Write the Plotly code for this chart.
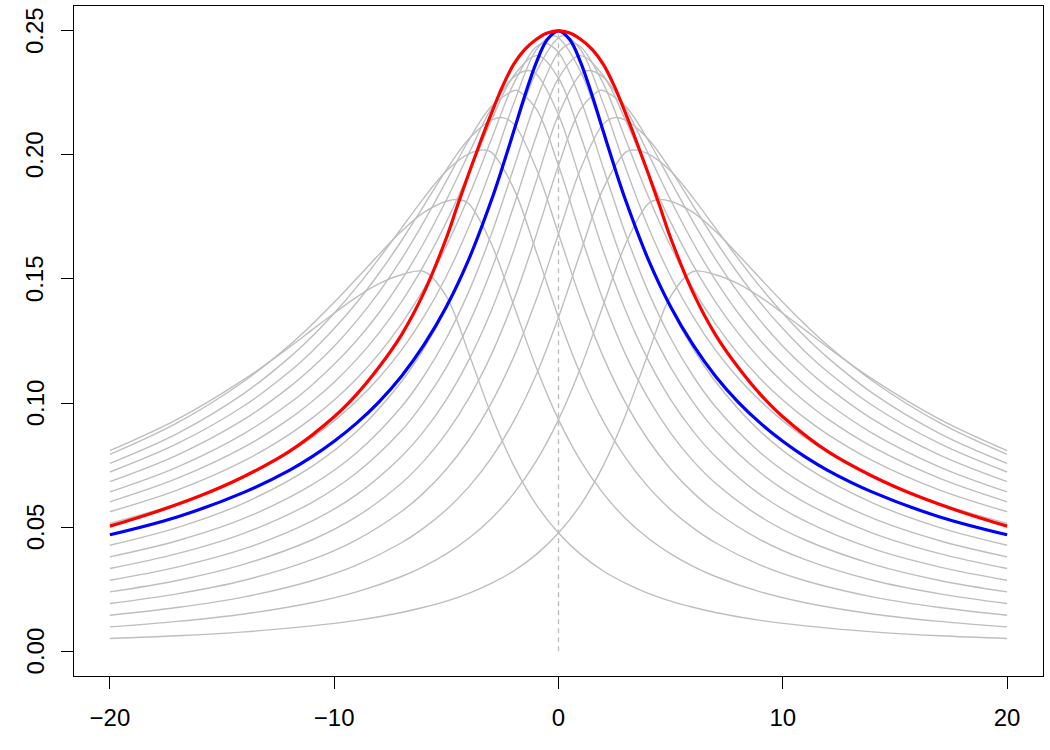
import plotly.graph_objects as go

LEFT = [-20, -17, -14, -11, -9, -7, -6, -5, -4, -3, -2, -1, 0]
RIGHT = [5, 6, 7, 8, 9, 10, 11, 12, 14, 17, 20]

# blue curve (symmetric, values for x >= 0)
blue_x = [0, 0.5, 1, 1.5, 2, 2.5, 3, 4, 5, 6, 7, 8, 9, 10, 11, 12, 14, 17, 20]
blue_y = [0.25, 0.2465, 0.2370, 0.2239, 0.2094, 0.1950, 0.1815, 0.1579, 0.1388, 0.1234, 0.1108,
          0.1005, 0.0919, 0.0846, 0.0783, 0.0729, 0.0641, 0.0541, 0.0469]

# red curve (symmetric, values for x >= 0)
red_x = [0, 0.5, 1, 1.5, 2, 2.5, 3, 3.5, 4, 4.5, 5, 6, 7, 8, 9, 10, 12, 14, 16, 18, 20]
red_y = [0.25, 0.2491, 0.2465, 0.2425, 0.2365, 0.2275, 0.2165, 0.2048, 0.1925, 0.1797, 0.1665,
         0.1445, 0.1275, 0.1145, 0.1035, 0.0945, 0.0805, 0.0705, 0.0625, 0.0560, 0.0504]

# gray curves peaking right of 0 (each also drawn mirrored)
g9_x = LEFT + [1, 2, 3, 4, 5, 6, 7, 8, 9, 10, 11, 12, 14, 17, 20]
g9_y = [0.0051, 0.0062, 0.0078, 0.0102, 0.0124, 0.0156, 0.0177, 0.0202, 0.0233, 0.0273, 0.0323, 0.0389, 0.0476,
        0.0592, 0.0749, 0.0954, 0.1200, 0.1430, 0.1530, 0.1517, 0.1481, 0.1427, 0.1362, 0.1294, 0.1225, 0.1096,
        0.0934, 0.0808]
g8_x = LEFT + [1, 2, 3, 4, 4.42] + RIGHT
g8_y = [0.0098, 0.0120, 0.0150, 0.0195, 0.0239, 0.0301, 0.0342, 0.0392, 0.0455, 0.0534, 0.0635, 0.0765, 0.0933,
        0.1145, 0.1395, 0.1643, 0.1803, 0.182, 0.1813, 0.1768, 0.1692, 0.1599, 0.1502, 0.1406, 0.1316, 0.1233,
        0.1089, 0.0920, 0.0793]
g7_x = LEFT + [1, 2, 3, 3.3, 4] + RIGHT
g7_y = [0.0145, 0.0176, 0.0219, 0.0284, 0.0347, 0.0437, 0.0497, 0.0570, 0.0662, 0.0778, 0.0926, 0.1113, 0.1346,
        0.1612, 0.1865, 0.2011, 0.202, 0.2004, 0.1935, 0.1827, 0.1705, 0.1583, 0.1467, 0.1362, 0.1267, 0.1183,
        0.1040, 0.0877, 0.0757]
g6_x = LEFT + [1, 2, 2.5, 3, 4] + RIGHT
g6_y = [0.0192, 0.0231, 0.0286, 0.0369, 0.0449, 0.0563, 0.0639, 0.0733, 0.0851, 0.0999, 0.1185, 0.1415, 0.1682,
        0.1947, 0.2125, 0.215, 0.2140, 0.2064, 0.1940, 0.1796, 0.1654, 0.1523, 0.1404, 0.1300, 0.1207, 0.1126,
        0.0990, 0.0836, 0.0722]
g5_x = LEFT + [1, 1.85, 2, 3, 4] + RIGHT
g5_y = [0.0239, 0.0285, 0.0351, 0.0448, 0.0542, 0.0677, 0.0767, 0.0879, 0.1019, 0.1194, 0.1413, 0.1675, 0.1957,
        0.2186, 0.226, 0.2259, 0.2195, 0.2059, 0.1894, 0.1731, 0.1580, 0.1447, 0.1331, 0.1229, 0.1141, 0.1064,
        0.0935, 0.0790, 0.0683]
g4_x = LEFT + [1, 1.35, 2, 3, 4] + RIGHT
g4_y = [0.0286, 0.0339, 0.0413, 0.0524, 0.0631, 0.0785, 0.0887, 0.1014, 0.1173, 0.1371, 0.1613, 0.1892, 0.2162,
        0.2327, 0.234, 0.2313, 0.2186, 0.2005, 0.1818, 0.1646, 0.1495, 0.1364, 0.1252, 0.1156, 0.1072, 0.0999,
        0.0878, 0.0742, 0.0642]
g3_x = LEFT + [0.95, 2, 3, 4] + RIGHT
g3_y = [0.0333, 0.0393, 0.0476, 0.0599, 0.0719, 0.0889, 0.1004, 0.1144, 0.1319, 0.1535, 0.1793, 0.2073, 0.2309,
        0.240, 0.2319, 0.2137, 0.1927, 0.1729, 0.1556, 0.1408, 0.1283, 0.1176, 0.1084, 0.1005, 0.0936,
        0.0823, 0.0696, 0.0602]
g2_x = LEFT + [0.6, 1, 2, 3, 4] + RIGHT
g2_y = [0.0380, 0.0445, 0.0536, 0.0670, 0.0800, 0.0985, 0.1109, 0.1261, 0.1449, 0.1679, 0.1946, 0.2218, 0.2413,
        0.245, 0.2435, 0.2287, 0.2061, 0.1833, 0.1632, 0.1461, 0.1319, 0.1199, 0.1098, 0.1012, 0.0938, 0.0874,
        0.0768, 0.0649, 0.0562]
g1_x = LEFT + [0.28, 1, 2, 3, 4] + RIGHT
g1_y = [0.0427, 0.0498, 0.0598, 0.0744, 0.0885, 0.1086, 0.1219, 0.1382, 0.1582, 0.1820, 0.2086, 0.2333, 0.2472,
        0.248, 0.2422, 0.2206, 0.1946, 0.1709, 0.1511, 0.1348, 0.1213, 0.1102, 0.1008, 0.0928, 0.0860, 0.0801,
        0.0703, 0.0595, 0.0515]

gray_pairs = [(g1_x, g1_y), (g2_x, g2_y), (g3_x, g3_y), (g4_x, g4_y), (g5_x, g5_y),
              (g6_x, g6_y), (g7_x, g7_y), (g8_x, g8_y), (g9_x, g9_y)]

y_ticks = [0, 0.05, 0.10, 0.15, 0.20, 0.25]
y_labels = ["0.00", "0.05", "0.10", "0.15", "0.20", "0.25"]
x_ticks = [-20, -10, 0, 10, 20]
x_labels = ["\u221220", "\u221210", "0", "10", "20"]


def sym(xs, ys):
    full_x = [-v for v in reversed(xs[1:])] + list(xs)
    full_y = list(reversed(ys[1:])) + list(ys)
    return full_x, full_y


GRAY = "#bebebe"
fig = go.Figure()
# center gray member (same as blue)
cx, cy = sym(blue_x, blue_y)
fig.add_trace(go.Scatter(x=cx, y=cy, mode="lines", line=dict(color=GRAY, width=1.4, shape="spline"),
                         hoverinfo="skip", showlegend=False))
for gx, gy in gray_pairs:
    fig.add_trace(go.Scatter(x=gx, y=gy, mode="lines", line=dict(color=GRAY, width=1.4, shape="spline"),
                             hoverinfo="skip", showlegend=False))
    fig.add_trace(go.Scatter(x=[-v for v in gx], y=gy, mode="lines",
                             line=dict(color=GRAY, width=1.4, shape="spline"),
                             hoverinfo="skip", showlegend=False))
fig.add_trace(go.Scatter(x=[0, 0], y=[0, 0.25], mode="lines", line=dict(color=GRAY, width=1.4, dash="5px,4px"),
                         hoverinfo="skip", showlegend=False))
bx, by = sym(blue_x, blue_y)
fig.add_trace(go.Scatter(x=bx, y=by, mode="lines", line=dict(color="#0000ff", width=3.2, shape="spline"),
                         showlegend=False))
rx, ry = sym(red_x, red_y)
fig.add_trace(go.Scatter(x=rx, y=ry, mode="lines", line=dict(color="#ff0000", width=3.2, shape="spline"),
                         showlegend=False))

axis_font = dict(family="Liberation Sans, Arial, sans-serif", size=24, color="black")
for v, t in zip(y_ticks, y_labels):
    fig.add_annotation(x=-0.040, xref="paper", y=v, yref="y", text=t, textangle=-90, showarrow=False,
                       font=axis_font, xanchor="center", yanchor="middle")

fig.update_layout(
    width=1050, height=750,
    margin=dict(l=74, r=7, t=6, b=74),
    paper_bgcolor="white", plot_bgcolor="white",
    xaxis=dict(range=[-21.6, 21.6], tickvals=x_ticks, ticktext=x_labels,
               ticks="outside", ticklen=12, tickwidth=1, tickcolor="black", showgrid=False, zeroline=False,
               showline=True, linecolor="black", linewidth=1, mirror=True, tickfont=axis_font,
               ticklabelstandoff=8),
    yaxis=dict(range=[-0.01, 0.26], tickvals=y_ticks, showticklabels=False,
               ticks="outside", ticklen=12, tickwidth=1, tickcolor="black", showgrid=False, zeroline=False,
               showline=True, linecolor="black", linewidth=1, mirror=True),
)
fig.write_html("out.html")
